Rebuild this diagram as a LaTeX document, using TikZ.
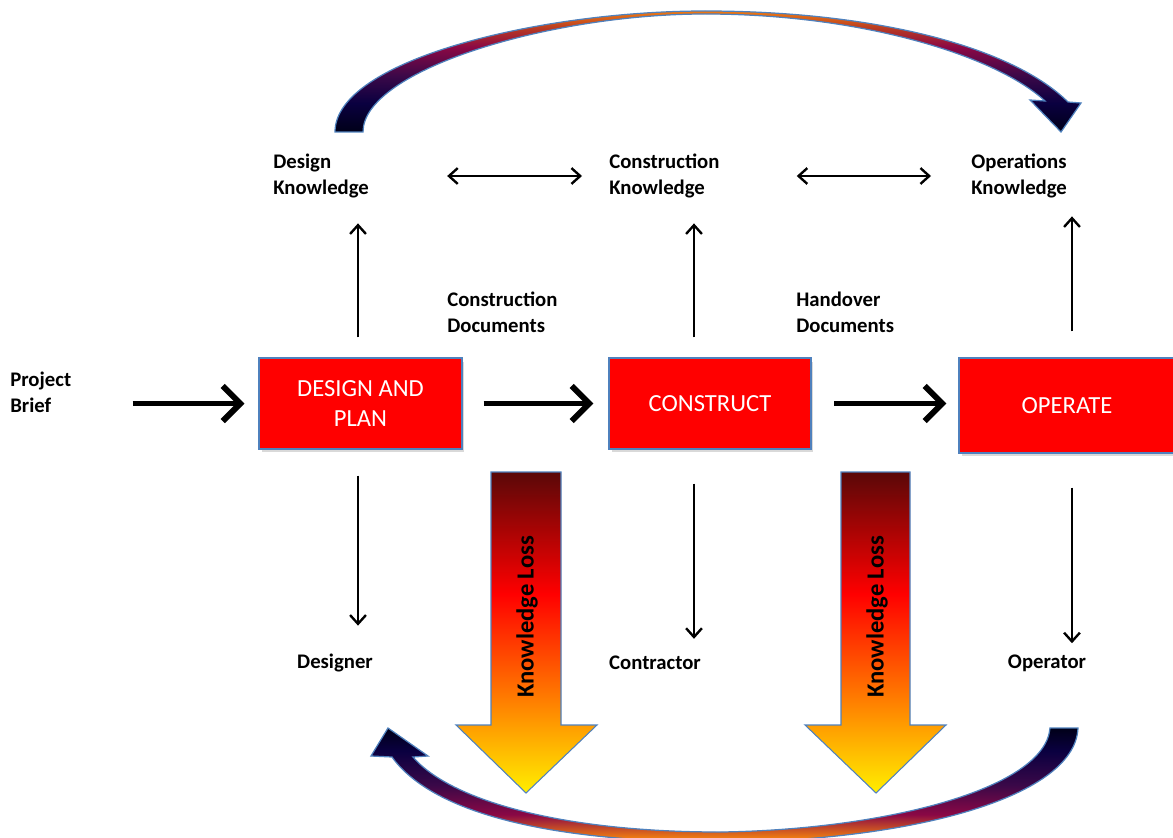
\documentclass[tikz,border=0pt]{standalone}
\usepackage{fontspec}
\setmainfont{Carlito}
\usepackage{tikz}
\usetikzlibrary{arrows.meta, positioning, shadows, calc}
\definecolor{boxred}{HTML}{FF0000}
\definecolor{edgeblue}{HTML}{4F81BD}
\definecolor{lossdark}{HTML}{5A0808}
\definecolor{lossorange}{HTML}{FF7A00}
\definecolor{lossamber}{HTML}{FFB800}
\definecolor{lossyellow}{HTML}{FFEE00}
\definecolor{arcorange}{HTML}{EE7A12}
\definecolor{arcrust}{HTML}{B83A22}
\definecolor{arccrimson}{HTML}{8A0845}
\definecolor{arcpurple}{HTML}{3A0848}
\definecolor{arcnavy}{HTML}{0A0040}
\definecolor{arcblack}{HTML}{000018}
\pgfdeclareverticalshading{lossshade}{100bp}{color(0bp)=(lossyellow); color(25bp)=(lossyellow);
  color(32bp)=(lossamber); color(40bp)=(lossorange); color(56bp)=(boxred); color(75bp)=(lossdark); color(100bp)=(lossdark)}
\pgfdeclareverticalshading{toparcshade}{100bp}{color(0bp)=(arcblack); color(25bp)=(arcblack);
  color(37bp)=(arcnavy); color(48bp)=(arcpurple); color(60bp)=(arccrimson); color(68bp)=(arcrust); color(75bp)=(arcorange); color(100bp)=(arcorange)}
\pgfdeclareverticalshading{botarcshade}{100bp}{color(0bp)=(arcorange); color(27bp)=(arcorange);
  color(37bp)=(arccrimson); color(50bp)=(arcpurple); color(65bp)=(arcnavy); color(75bp)=(arcblack); color(100bp)=(arcblack)}
\tikzstyle{stagebox} = [rectangle, draw=edgeblue, fill=boxred, line width=0.6pt, text=white,
  font=\fontsize{14}{17}\selectfont, align=center,
  drop shadow={shadow xshift=0.05cm, shadow yshift=-0.07cm, opacity=0.3}]
\tikzstyle{infolabel} = [font=\fontsize{11.8}{14.8}\selectfont\bfseries, align=left, inner sep=0pt, anchor=west]
\tikzstyle{rolelabel} = [font=\fontsize{11.8}{14.8}\selectfont\bfseries, inner sep=0pt]
\tikzstyle{losslabel} = [font=\fontsize{14}{16}\selectfont\bfseries, inner sep=0pt]
\tikzstyle{flowarrow} = [line width=3.4pt, -{Straight Barb[length=10pt,width=20pt]}]
\tikzstyle{thinarrow} = [line width=1.35pt, -{Straight Barb[length=5pt,width=9pt]}]
\tikzstyle{twoarrow} = [line width=1.35pt, {Straight Barb[length=5pt,width=9pt]}-{Straight Barb[length=5pt,width=9pt]}]
\tikzstyle{lossarrow} = [draw=edgeblue, line width=0.6pt, shade, shading=lossshade]
\tikzstyle{cyclearc} = [draw=edgeblue, line width=0.7pt, shade]

\begin{document}
\begin{tikzpicture}[x=0.02cm, y=-0.02cm]
  \path[use as bounding box] (0,0) rectangle (1173,838);
  \clip (0,0) rectangle (1173,838);

  % Stages
  \node (design) [stagebox, minimum width=4.06cm, minimum height=1.82cm] at (360.5,403.5) {DESIGN AND\\PLAN};
  \node (construct) [stagebox, right=2.92cm of design, minimum width=4.04cm, minimum height=1.82cm] {CONSTRUCT};
  \node (operate) [stagebox, right=2.94cm of construct, yshift=-0.04cm, minimum width=4.32cm, minimum height=1.9cm] {OPERATE};

  % Knowledge
  \node (brief) [infolabel] at (10,392.5) {Project\\Brief};
  \node (dk) [infolabel] at (273,176) {Design\\Knowledge};
  \node (ck) [infolabel] at (609,176) {Construction\\Knowledge};
  \node (ok) [infolabel] at (971,176) {Operations\\Knowledge};

  % Documents
  \node (cdocs) [infolabel] at (447,312) {Construction\\Documents};
  \node (hdocs) [infolabel] at (796,312) {Handover\\Documents};

  % Roles
  \node (designer) [rolelabel] at (335,663) {Designer};
  \node (contractor) [rolelabel] at (655,663) {Contractor};
  \node (operator) [rolelabel] at (1047,663) {Operator};

  % Knowledge loss
  \draw[lossarrow] (491,472) -- (561,472) -- (561,725) -- (597,725) -- (526,793) -- (456,725) -- (491,725) -- cycle;
  \draw[lossarrow] (841,472) -- (910,472) -- (910,725) -- (946,725) -- (876,793) -- (805,725) -- (841,725) -- cycle;
  \node (loss1) [losslabel, rotate=90] at (527,617) {Knowledge Loss};
  \node (loss2) [losslabel, rotate=90] at (877,617) {Knowledge Loss};

  % Cycle arcs
  \draw[cyclearc, shading=toparcshade] (335,132) .. controls (335,60) and (540,11) .. (705,11)
    .. controls (870,11) and (1010,45) .. (1068,102) -- (1081,103) -- (1061,132) -- (1030,100) -- (1045,101)
    .. controls (995,55) and (860,14) .. (705,14) .. controls (550,14) and (363,70) .. (363,132) -- cycle;
  \draw[cyclearc, shading=botarcshade] (1050,728) -- (1078,728) .. controls (1075,800) and (900,842) .. (720,842)
    .. controls (540,842) and (430,810) .. (392,757) -- (371,756) -- (388,728) -- (428,756) -- (413,757)
    .. controls (450,800) and (560,832) .. (720,832) .. controls (880,830) and (1045,790) .. (1050,728) -- cycle;

  % Arrows
  \draw[flowarrow, shorten <=1.22cm, shorten >=0.28cm] (brief.east |- design.west) -- (design.west);
  \draw[flowarrow, shorten <=0.42cm, shorten >=0.3cm] (design) -- (construct);
  \draw[flowarrow, shorten <=0.46cm, shorten >=0.24cm] (construct.east) -- (construct.east -| operate.west);
  \draw[thinarrow, shorten <=0.4cm, shorten >=0.5cm] ([xshift=-0.05cm]design.north) -- ([xshift=-0.05cm]design.north |- dk.south);
  \draw[thinarrow, shorten <=0.4cm, shorten >=0.5cm] ([xshift=-0.32cm]construct.north) -- ([xshift=-0.32cm]construct.north |- ck.south);
  \draw[thinarrow, shorten <=0.52cm, shorten >=0.36cm] ([xshift=0.1cm]operate.north) -- ([xshift=0.1cm]operate.north |- ok.south);
  \draw[thinarrow, shorten <=0.52cm, shorten >=0.56cm] ([xshift=-0.05cm]design.south) -- ([xshift=-0.05cm]design.south |- designer.north);
  \draw[thinarrow, shorten <=0.68cm, shorten >=0.34cm] ([xshift=-0.32cm]construct.south) -- ([xshift=-0.32cm]construct.south |- contractor.north);
  \draw[thinarrow, shorten <=0.68cm, shorten >=0.22cm] ([xshift=0.1cm]operate.south) -- ([xshift=0.1cm]operate.south |- operator.north);
  \draw[twoarrow, shorten <=1.56cm, shorten >=0.54cm] (dk.east) -- (ck.west);
  \draw[twoarrow, shorten <=1.54cm, shorten >=0.8cm] (ck.east) -- (ok.west);
\end{tikzpicture}
\end{document}
